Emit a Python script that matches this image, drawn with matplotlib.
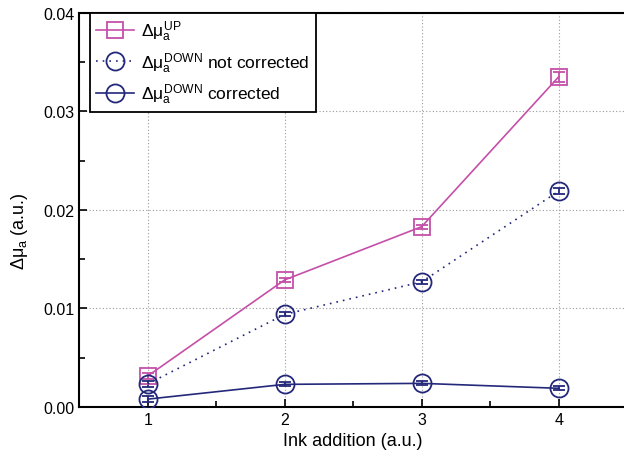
import matplotlib
matplotlib.use("Agg")
import matplotlib.pyplot as plt
from matplotlib.lines import Line2D
import numpy as np

# values
ink = [1, 2, 3, 4]
up = [0.00315, 0.0129, 0.0183, 0.0335]
up_err = [0.0003, 0.0002, 0.0002, 0.0005]
down_raw = [0.00235, 0.0094, 0.0127, 0.0219]
down_raw_err = [0.0003, 0.0002, 0.0002, 0.0003]
down_corr = [0.0008, 0.0023, 0.0024, 0.0019]
down_corr_err = [0.0003, 0.0002, 0.0002, 0.0002]

PINK = "#c54fa8"
NAVY = "#24287a"

plt.rcParams['font.family'] = ['Liberation Sans', 'DejaVu Sans']
plt.rcParams['mathtext.fontset'] = 'custom'
plt.rcParams['mathtext.rm'] = 'Liberation Sans'
plt.rcParams['mathtext.it'] = 'Liberation Sans'
plt.rcParams['mathtext.bf'] = 'Liberation Sans'

fig = plt.figure(figsize=(6.24, 4.60), dpi=100)
ax = fig.add_axes([0.127, 0.113, 0.878, 0.857])

series = [
    (up, up_err, PINK, 's', 11, '-', r'$\Delta\mu_a^{UP}$'),
    (down_raw, down_raw_err, NAVY, 'o', 13, (0, (1, 3)),
     r'$\Delta\mu_a^{DOWN}$ not corrected'),
    (down_corr, down_corr_err, NAVY, 'o', 13, '-',
     r'$\Delta\mu_a^{DOWN}$ corrected'),
]

handles = []
for vals, errs, col, mk, ms, ls, lab in series:
    ax.errorbar(ink, vals, yerr=errs, color=col, marker=mk, markersize=ms,
                markerfacecolor='none', markeredgewidth=1.3, linewidth=1.2,
                linestyle=ls, capsize=4, elinewidth=1.3, capthick=1.3,
                zorder=3)
    # legend handles without the error bars
    handles.append(Line2D([], [], color=col, marker=mk, markersize=ms,
                          markerfacecolor='none', markeredgewidth=1.3,
                          linewidth=1.2, linestyle=ls, label=lab))

ax.set_xlim(0.5, 4.5)
ax.set_ylim(0, 0.04)
ax.set_xticks([1, 2, 3, 4])
ax.set_xticks([1.5, 2.5, 3.5], minor=True)
ax.set_yticks([0.0, 0.01, 0.02, 0.03, 0.04])
ax.set_yticks([0.005, 0.015, 0.025, 0.035], minor=True)
ax.set_yticklabels(['0.00', '0.01', '0.02', '0.03', '0.04'])
ax.tick_params(which='both', direction='in', labelsize=11.5, width=1.2)
ax.tick_params(which='major', length=6)
ax.tick_params(which='minor', length=4)
ax.grid(True, which='major', color='#999999', linestyle=(0, (1, 2)),
        linewidth=0.8)

for spine in ax.spines.values():
    spine.set_linewidth(1.5)
ax.spines['right'].set_visible(False)

ax.set_xlabel('Ink addition (a.u.)', fontsize=13)
ax.set_ylabel(r'$\Delta\mu_a$ (a.u.)', fontsize=13)
ax.yaxis.set_label_coords(-0.09, 0.45)

leg = ax.legend(handles=handles, loc='upper left',
                bbox_to_anchor=(0.02, 1.0), borderaxespad=0, fontsize=12.5,
                fancybox=False, framealpha=1, edgecolor='black',
                handlelength=2.2, handletextpad=0.4, labelspacing=0.4,
                borderpad=0.35)
leg.get_frame().set_linewidth(1.3)

fig.savefig('out.png', dpi=100)
